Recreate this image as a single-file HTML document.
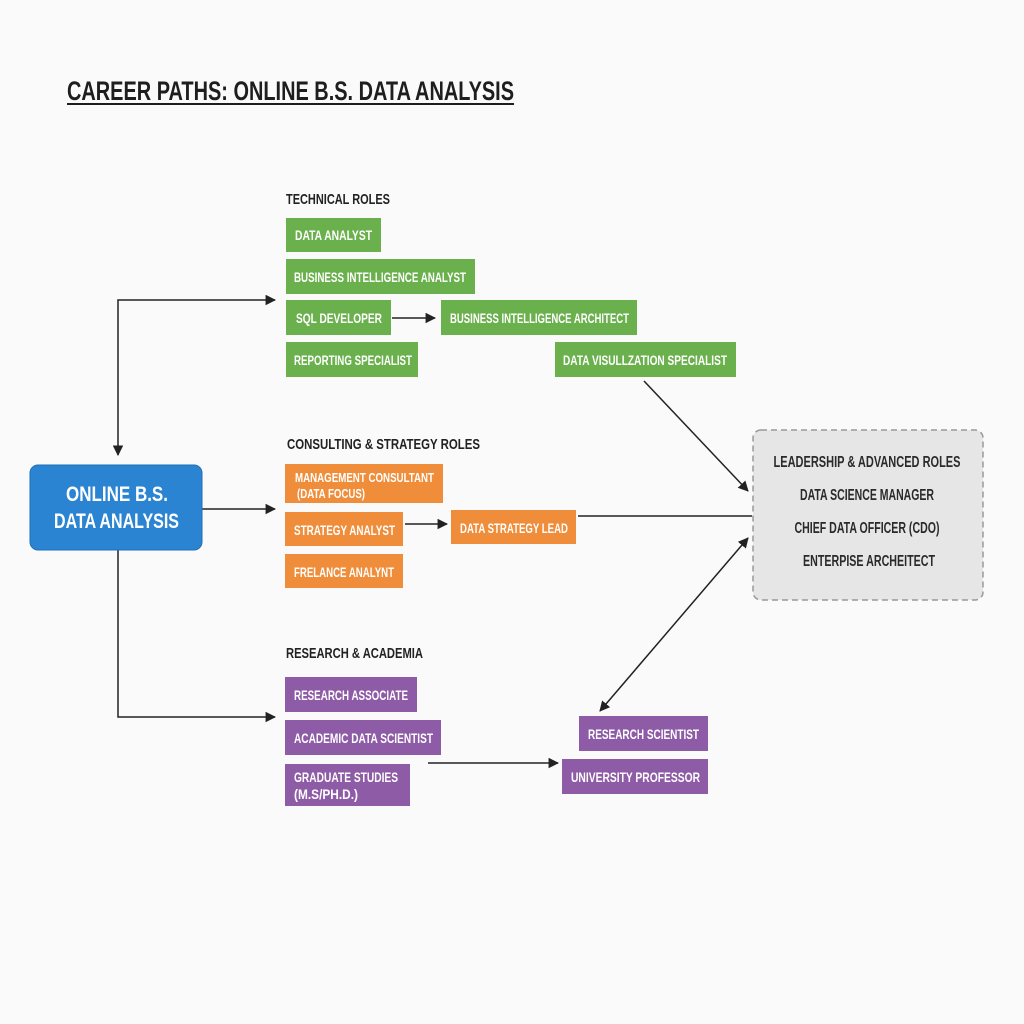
<!DOCTYPE html>
<html><head><meta charset="utf-8"><style>
html,body{margin:0;padding:0;background:#fafafa;}
svg{display:block;}
text{font-family:"Liberation Sans Narrow","Liberation Sans",sans-serif;font-weight:bold;}
.w{fill:#fff;font-size:14px;}
.h{fill:#222;font-size:15px;}
.l{fill:#2a2a2a;font-size:16px;}
</style></head><body>
<svg width="1024" height="1024" viewBox="0 0 1024 1024" xmlns="http://www.w3.org/2000/svg">
<defs>
<marker id="a" viewBox="0 0 10 10" refX="9" refY="5" markerWidth="7" markerHeight="7" orient="auto-start-reverse"><path d="M0,0 L10,5 L0,10 z" fill="#222"/></marker>
</defs>
<rect width="1024" height="1024" fill="#fafafa"/>
<text x="67" y="100" font-size="27" fill="#1e1e1e" textLength="447" lengthAdjust="spacingAndGlyphs">CAREER PATHS: ONLINE B.S. DATA ANALYSIS</text>
<line x1="67" y1="104" x2="514" y2="104" stroke="#1e1e1e" stroke-width="2"/>

<g stroke="#222" stroke-width="1.5" fill="none">
<polyline points="118,455 118,300 275,300" marker-start="url(#a)" marker-end="url(#a)"/>
<line x1="202" y1="509" x2="275" y2="509" marker-end="url(#a)"/>
<polyline points="118,550 118,717 275,717" marker-end="url(#a)"/>
<line x1="392" y1="318" x2="435" y2="318" marker-end="url(#a)"/>
<line x1="644" y1="381" x2="748" y2="491" marker-end="url(#a)"/>
<line x1="405" y1="524" x2="447" y2="524" marker-end="url(#a)"/>
<line x1="578" y1="516" x2="752" y2="516"/>
<line x1="600" y1="711" x2="748" y2="538" marker-start="url(#a)" marker-end="url(#a)"/>
<line x1="428" y1="763" x2="558" y2="763" marker-end="url(#a)"/>
</g>

<rect x="30" y="465" width="172" height="85" rx="8" fill="#2a84d2" stroke="#1f6fb5"/>
<text x="66" y="501" class="w" style="font-size:21px" textLength="102" lengthAdjust="spacingAndGlyphs">ONLINE B.S.</text>
<text x="54" y="528" class="w" style="font-size:21px" textLength="125" lengthAdjust="spacingAndGlyphs">DATA ANALYSIS</text>

<text x="286" y="204" class="h" textLength="104" lengthAdjust="spacingAndGlyphs">TECHNICAL ROLES</text>
<g fill="#6ab04c">
<rect x="286" y="218" width="95" height="34"/>
<rect x="286" y="259" width="189" height="35"/>
<rect x="286" y="300" width="105" height="35"/>
<rect x="441" y="300" width="196" height="35"/>
<rect x="286" y="342" width="132" height="35"/>
<rect x="555" y="342" width="181" height="35"/>
</g>
<text x="295" y="240" class="w" textLength="77" lengthAdjust="spacingAndGlyphs">DATA ANALYST</text>
<text x="294" y="282" class="w" textLength="172" lengthAdjust="spacingAndGlyphs">BUSINESS INTELLIGENCE ANALYST</text>
<text x="296" y="323" class="w" textLength="86" lengthAdjust="spacingAndGlyphs">SQL DEVELOPER</text>
<text x="450" y="323" class="w" textLength="179" lengthAdjust="spacingAndGlyphs">BUSINESS INTELLIGENCE ARCHITECT</text>
<text x="294" y="365" class="w" textLength="118" lengthAdjust="spacingAndGlyphs">REPORTING SPECIALIST</text>
<text x="563" y="365" class="w" textLength="164" lengthAdjust="spacingAndGlyphs">DATA VISULLZATION SPECIALIST</text>

<text x="287" y="449" class="h" textLength="193" lengthAdjust="spacingAndGlyphs">CONSULTING &amp; STRATEGY ROLES</text>
<g fill="#ef8d3a">
<rect x="285" y="464" width="158" height="39"/>
<rect x="285" y="512" width="118" height="34"/>
<rect x="285" y="554" width="118" height="34"/>
<rect x="451" y="510" width="125" height="34"/>
</g>
<text x="295" y="482" class="w" style="font-size:13px" textLength="139" lengthAdjust="spacingAndGlyphs">MANAGEMENT CONSULTANT</text>
<text x="297" y="498" class="w" style="font-size:13px" textLength="68" lengthAdjust="spacingAndGlyphs">(DATA FOCUS)</text>
<text x="294" y="535" class="w" textLength="101" lengthAdjust="spacingAndGlyphs">STRATEGY ANALYST</text>
<text x="294" y="577" class="w" textLength="100" lengthAdjust="spacingAndGlyphs">FRELANCE ANALYNT</text>
<text x="460" y="533" class="w" textLength="108" lengthAdjust="spacingAndGlyphs">DATA STRATEGY LEAD</text>

<rect x="753" y="430" width="230" height="170" rx="8" fill="#e6e6e6" stroke="#999" stroke-width="1.5" stroke-dasharray="6,4"/>
<text x="867" y="467" class="l" text-anchor="middle" textLength="187" lengthAdjust="spacingAndGlyphs">LEADERSHIP &amp; ADVANCED ROLES</text>
<text x="867" y="500" class="l" text-anchor="middle" textLength="134" lengthAdjust="spacingAndGlyphs">DATA SCIENCE MANAGER</text>
<text x="867" y="533" class="l" text-anchor="middle" textLength="145" lengthAdjust="spacingAndGlyphs">CHIEF DATA OFFICER (CDO)</text>
<text x="869" y="566" class="l" text-anchor="middle" textLength="132" lengthAdjust="spacingAndGlyphs">ENTERPISE ARCHEITECT</text>

<text x="286" y="658" class="h" textLength="137" lengthAdjust="spacingAndGlyphs">RESEARCH &amp; ACADEMIA</text>
<g fill="#8e5ba6">
<rect x="285" y="677" width="132" height="35"/>
<rect x="285" y="720" width="156" height="35"/>
<rect x="285" y="764" width="125" height="42"/>
<rect x="579" y="716" width="129" height="35"/>
<rect x="562" y="759" width="146" height="35"/>
</g>
<text x="294" y="700" class="w" textLength="114" lengthAdjust="spacingAndGlyphs">RESEARCH ASSOCIATE</text>
<text x="294" y="743" class="w" textLength="139" lengthAdjust="spacingAndGlyphs">ACADEMIC DATA SCIENTIST</text>
<text x="294" y="782" class="w" textLength="104" lengthAdjust="spacingAndGlyphs">GRADUATE STUDIES</text>
<text x="294" y="799" class="w" textLength="64" lengthAdjust="spacingAndGlyphs">(M.S/PH.D.)</text>
<text x="588" y="739" class="w" textLength="111" lengthAdjust="spacingAndGlyphs">RESEARCH SCIENTIST</text>
<text x="571" y="782" class="w" textLength="129" lengthAdjust="spacingAndGlyphs">UNIVERSITY PROFESSOR</text>
</svg>
</body></html>
